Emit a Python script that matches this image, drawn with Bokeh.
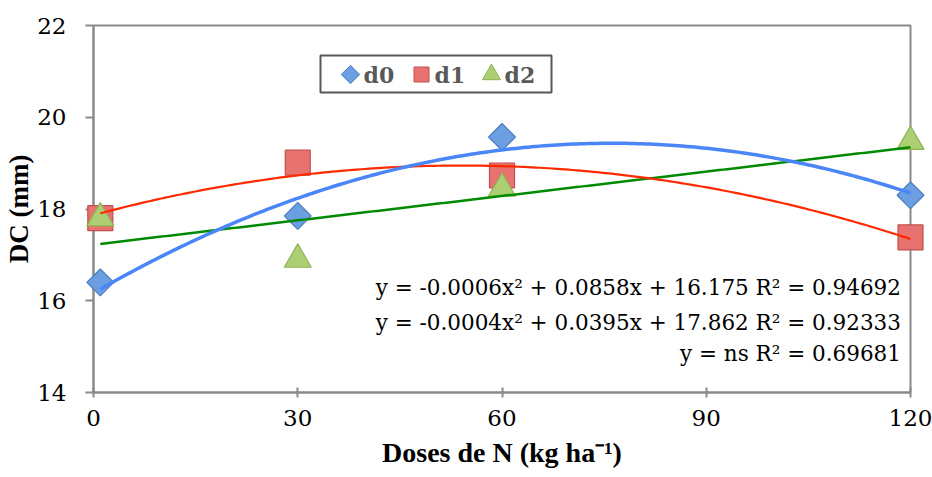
import numpy as np
from bokeh.plotting import figure
from bokeh.models import Range1d, FixedTicker, Label
from bokeh.core.properties import value
from bokeh.embed import file_html
from bokeh.resources import INLINE

# ---- data ----
doses = [1, 30, 60, 120]
d0 = [16.40, 17.85, 19.57, 18.30]
d1 = [17.80, 19.01, 18.73, 17.38]
d2 = [17.80, 16.90, 18.45, 19.47]
series_names = ["d0", "d1", "d2"]
x_ticks = [0, 30, 60, 90, 120]
y_ticks = [14, 16, 18, 20, 22]
x_title = "Doses de N (kg ha⁻¹)"
y_title = "DC (mm)"
equations = [
    "y = -0.0006x² + 0.0858x + 16.175 R² = 0.94692",
    "y = -0.0004x² + 0.0395x + 17.862 R² = 0.92333",
    "y = ns R² = 0.69681",
]
eq_y = [16.29, 15.53, 14.86]

FW, FH = 817, 367
p = figure(width=932, height=477, output_backend="svg", toolbar_location=None,
           x_range=Range1d(0, 120), y_range=Range1d(14, 22),
           min_border_left=93, min_border_right=22, min_border_top=25, min_border_bottom=85)
# pixel-space ranges for the hand-built legend box
p.extra_x_ranges = {"px": Range1d(0, FW)}
p.extra_y_ranges = {"px": Range1d(0, FH)}

p.xgrid.visible = False
p.ygrid.visible = False
p.outline_line_color = "#8a8a8a"
p.outline_line_width = 2
p.background_fill_color = "white"

for ax in (p.xaxis[0], p.yaxis[0]):
    ax.axis_line_color = "#8a8a8a"
    ax.axis_line_width = 2
    ax.major_tick_line_color = "#8a8a8a"
    ax.major_tick_line_width = 2
    ax.minor_tick_line_color = None
    ax.major_label_text_font = "DejaVu Serif"
    ax.major_label_text_font_size = "23px"
    ax.major_label_text_color = "black"
    ax.axis_label_text_font = "Liberation Serif"
    ax.axis_label_text_font_style = "bold"
    ax.axis_label_text_color = "black"

p.xaxis.ticker = FixedTicker(ticks=x_ticks)
p.yaxis.ticker = FixedTicker(ticks=y_ticks)
p.xaxis.major_tick_in = 5
p.xaxis.major_tick_out = 5
p.yaxis.major_tick_in = 0
p.yaxis.major_tick_out = 8
p.xaxis.major_label_standoff = 12
p.yaxis.major_label_standoff = 19
p.xaxis.axis_label = x_title
p.yaxis.axis_label = y_title
p.xaxis.axis_label_text_font_size = "28px"
p.yaxis.axis_label_text_font_size = "27px"
p.xaxis.axis_label_standoff = 8
p.yaxis.axis_label_standoff = 0

marker_style = [
    dict(marker="square", angle=np.pi / 4, size=19, fill_color="#6c9fe2", line_color="#4a7cbf"),
    dict(marker="square", angle=0.0, size=25, fill_color="#e8726f", line_color="#c0504d"),
    dict(marker="triangle", angle=0.0, size=27, fill_color="#abcf72", line_color="#8fb255"),
]

# markers (overlay level so that they are not clipped at the frame edge)
for ys, st in zip([d0, d1, d2], marker_style):
    p.scatter(doses, ys, line_width=1.2, level="overlay", **st)

# trend lines fitted from the data
xs = np.linspace(min(doses), max(doses), 200)
c0 = np.polyfit(doses, d0, 2)
c1 = np.polyfit(doses, d1, 2)
c2 = np.polyfit(doses, d2, 1)
p.line(xs, np.polyval(c2, xs), line_color="#008a00", line_width=2.5, level="overlay")
p.line(xs, np.polyval(c1, xs), line_color="#ff2a00", line_width=2.2, level="overlay")
p.line(xs, np.polyval(c0, xs), line_color="#4a86f7", line_width=3.5, level="overlay")

for txt, yy in zip(equations, eq_y):
    p.add_layout(Label(x=118.6, y=yy, text=txt, text_align="right", text_baseline="middle",
                       text_font="DejaVu Serif", text_font_size="21.5px", text_color="black"))

# legend (drawn by hand so the d0 diamond keeps its rotation)
p.quad(left=[227], right=[458], bottom=[300], top=[337], x_range_name="px", y_range_name="px",
       fill_color="white", line_color="#595959", line_width=2)
leg_mx = [257, 328, 398]
leg_sizes = [13, 15, 18]
for mx, sz, st in zip(leg_mx, leg_sizes, marker_style):
    s = dict(st)
    s["size"] = sz
    p.scatter([mx], [318], x_range_name="px", y_range_name="px", line_width=1, **s)
p.text(x=[m + 13 for m in leg_mx], y=[318] * 3, text=series_names,
       x_range_name="px", y_range_name="px",
       text_font=value("DejaVu Serif"), text_font_style="bold", text_font_size="22px",
       text_color="#595959", text_baseline="middle", text_align="left")

open("out.html", "w").write(file_html(p, INLINE))
